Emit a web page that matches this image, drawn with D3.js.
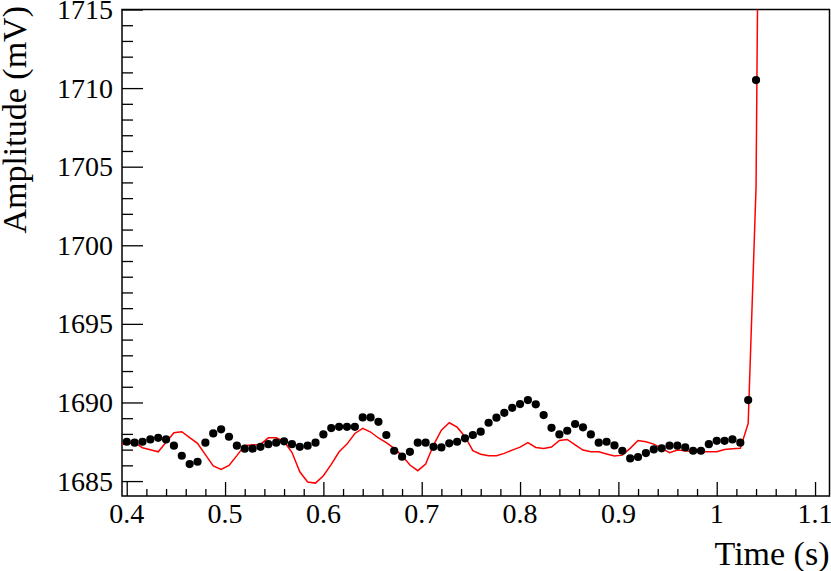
<!DOCTYPE html>
<html><head><meta charset="utf-8">
<script src="https://cdn.jsdelivr.net/npm/d3@7"></script>
<style>
html,body{margin:0;padding:0;background:#fff;}
svg{display:block;}
text{font-family:"Liberation Serif","Times New Roman",serif;fill:#000;}
</style></head>
<body>
<script>
// ---- data ----
const pointTimes = [0.400,0.408,0.416,0.424,0.432,0.440,0.448,0.456,0.464,0.472,0.480,0.488,0.496,0.504,0.512,0.520,0.528,0.536,0.544,0.552,0.560,0.568,0.576,0.584,0.592,0.600,0.608,0.616,0.624,0.632,0.640,0.648,0.656,0.664,0.672,0.680,0.688,0.696,0.704,0.712,0.720,0.728,0.736,0.744,0.752,0.760,0.768,0.776,0.784,0.792,0.800,0.808,0.816,0.824,0.832,0.840,0.848,0.856,0.864,0.872,0.880,0.888,0.896,0.904,0.912,0.920,0.928,0.936,0.944,0.952,0.960,0.968,0.976,0.984,0.992,1.000,1.008,1.016,1.024,1.032,1.040];
const pointValues = [1687.50,1687.44,1687.50,1687.65,1687.75,1687.65,1687.25,1686.61,1686.08,1686.23,1687.44,1688.03,1688.29,1687.82,1687.25,1687.06,1687.06,1687.18,1687.35,1687.44,1687.53,1687.35,1687.18,1687.25,1687.44,1687.97,1688.37,1688.45,1688.45,1688.45,1689.05,1689.05,1688.77,1687.93,1686.93,1686.55,1686.86,1687.44,1687.44,1687.18,1687.14,1687.40,1687.50,1687.72,1687.93,1688.14,1688.71,1689.03,1689.34,1689.66,1689.90,1690.15,1689.88,1689.20,1688.39,1687.97,1688.20,1688.63,1688.42,1687.97,1687.44,1687.50,1687.27,1686.93,1686.44,1686.53,1686.78,1687.01,1687.08,1687.25,1687.25,1687.14,1686.93,1686.93,1687.35,1687.56,1687.56,1687.65,1687.44,1690.15,1710.51];
const lineTimes = [0.392,0.400,0.408,0.416,0.424,0.432,0.440,0.448,0.456,0.464,0.472,0.480,0.488,0.496,0.504,0.512,0.520,0.528,0.536,0.544,0.552,0.560,0.568,0.576,0.584,0.592,0.600,0.608,0.616,0.624,0.632,0.640,0.648,0.656,0.664,0.672,0.680,0.688,0.696,0.704,0.712,0.720,0.728,0.736,0.744,0.752,0.760,0.768,0.776,0.784,0.792,0.800,0.808,0.816,0.824,0.832,0.840,0.848,0.856,0.864,0.872,0.880,0.888,0.896,0.904,0.912,0.920,0.928,0.936,0.944,0.952,0.960,0.968,0.976,0.984,0.992,1.000,1.008,1.016,1.024,1.032,1.040,1.048];
const lineValues = [1687.30,1687.37,1687.44,1687.12,1686.99,1686.86,1687.47,1688.07,1688.14,1687.77,1687.40,1686.68,1685.97,1685.74,1686.00,1686.62,1687.27,1687.30,1687.33,1687.75,1687.75,1687.52,1686.83,1685.59,1684.94,1684.87,1685.34,1686.06,1686.86,1687.35,1688.03,1688.35,1688.12,1687.74,1687.45,1687.08,1686.62,1686.02,1685.66,1686.08,1687.29,1688.24,1688.71,1688.43,1687.82,1686.93,1686.71,1686.61,1686.61,1686.76,1686.97,1687.16,1687.44,1687.14,1687.08,1687.16,1687.58,1687.65,1687.31,1686.97,1686.86,1686.86,1686.72,1686.59,1686.65,1687.08,1687.58,1687.50,1687.35,1687.08,1686.80,1686.97,1686.93,1686.86,1686.86,1686.86,1686.86,1687.01,1687.05,1687.08,1688.67,1703.7,1765];
const xTickValues = [0.4,0.5,0.6,0.7,0.8,0.9,1.0,1.1];
const xTickLabels = ["0.4","0.5","0.6","0.7","0.8","0.9","1","1.1"];
const yTickValues = [1685,1690,1695,1700,1705,1710,1715];
const yTickLabels = ["1685","1690","1695","1700","1705","1710","1715"];
const xTitle = "Time (s)";
const yTitle = "Amplitude (mV)";

// ---- layout ----
const W = 831, H = 571;
const L = 122, R = 829.5, T = 9.5, B = 496;
const x = d3.scaleLinear().domain([0.3952, 1.1147]).range([L, R]);
const y = d3.scaleLinear().domain([1684.05, 1715]).range([B, T]);

const svg = d3.select("body").append("svg").attr("width", W).attr("height", H);

svg.append("defs").append("clipPath").attr("id","clip")
  .append("rect").attr("x",L).attr("y",T).attr("width",R-L).attr("height",B-T);

// minor ticks
const xMinor = d3.range(0, 36).map(i => +(0.4 + i*0.02).toFixed(3)).filter(v => !xTickValues.some(t => Math.abs(t-v)<1e-6));
const yMinor = d3.range(1685, 1716).filter(v => !yTickValues.includes(v));

// X axis (ticks inward)
const xAxisMajor = d3.axisTop(x).tickValues(xTickValues).tickSize(14).tickFormat("");
const xAxisMinor = d3.axisTop(x).tickValues(xMinor).tickSize(7).tickFormat("");
[xAxisMajor, xAxisMinor].forEach(a => {
  const g = svg.append("g").attr("transform", `translate(0,${B})`).call(a);
  g.select(".domain").remove();
  g.selectAll(".tick line").attr("stroke","#000").attr("stroke-width",1.3);
});
const yAxisMajor = d3.axisRight(y).tickValues(yTickValues).tickSize(21).tickFormat("");
const yAxisMinor = d3.axisRight(y).tickValues(yMinor).tickSize(11).tickFormat("");
[yAxisMajor, yAxisMinor].forEach(a => {
  const g = svg.append("g").attr("transform", `translate(${L},0)`).call(a);
  g.select(".domain").remove();
  g.selectAll(".tick line").attr("stroke","#000").attr("stroke-width",1.3);
});

// tick labels
svg.append("g").selectAll("text").data(xTickValues).join("text")
  .attr("x", d => x(d)).attr("y", 523)
  .attr("text-anchor","middle").attr("font-size", 28)
  .text((d,i) => xTickLabels[i]);
svg.append("g").selectAll("text").data(yTickValues).join("text")
  .attr("x", 113).attr("y", d => y(d) + 9.5)
  .attr("text-anchor","end").attr("font-size", 28)
  .text((d,i) => yTickLabels[i]);

// frame
svg.append("rect").attr("x",L).attr("y",T).attr("width",R-L).attr("height",B-T)
  .attr("fill","none").attr("stroke","#000").attr("stroke-width",1.5);

// red line
const lineData = lineTimes.map((t,i) => [t, lineValues[i]]);
svg.append("path").attr("clip-path","url(#clip)")
  .datum(lineData)
  .attr("fill","none").attr("stroke","#ff0000").attr("stroke-width",1.5)
  .attr("d", d3.line().x(d => x(d[0])).y(d => y(d[1])));

// points
const pts = pointTimes.map((t,i) => [t, pointValues[i]]);
svg.append("g").attr("clip-path","url(#clip)").selectAll("circle").data(pts).join("circle")
  .attr("cx", d => x(d[0])).attr("cy", d => y(d[1])).attr("r", 4.1).attr("fill","#000");

// titles
svg.append("text").attr("x", R).attr("y", 565).attr("text-anchor","end")
  .attr("font-size", 34).text(xTitle);
svg.append("text").attr("transform", `translate(26,6) rotate(-90)`)
  .attr("text-anchor","end").attr("font-size", 34).text(yTitle);
</script>
</body></html>
